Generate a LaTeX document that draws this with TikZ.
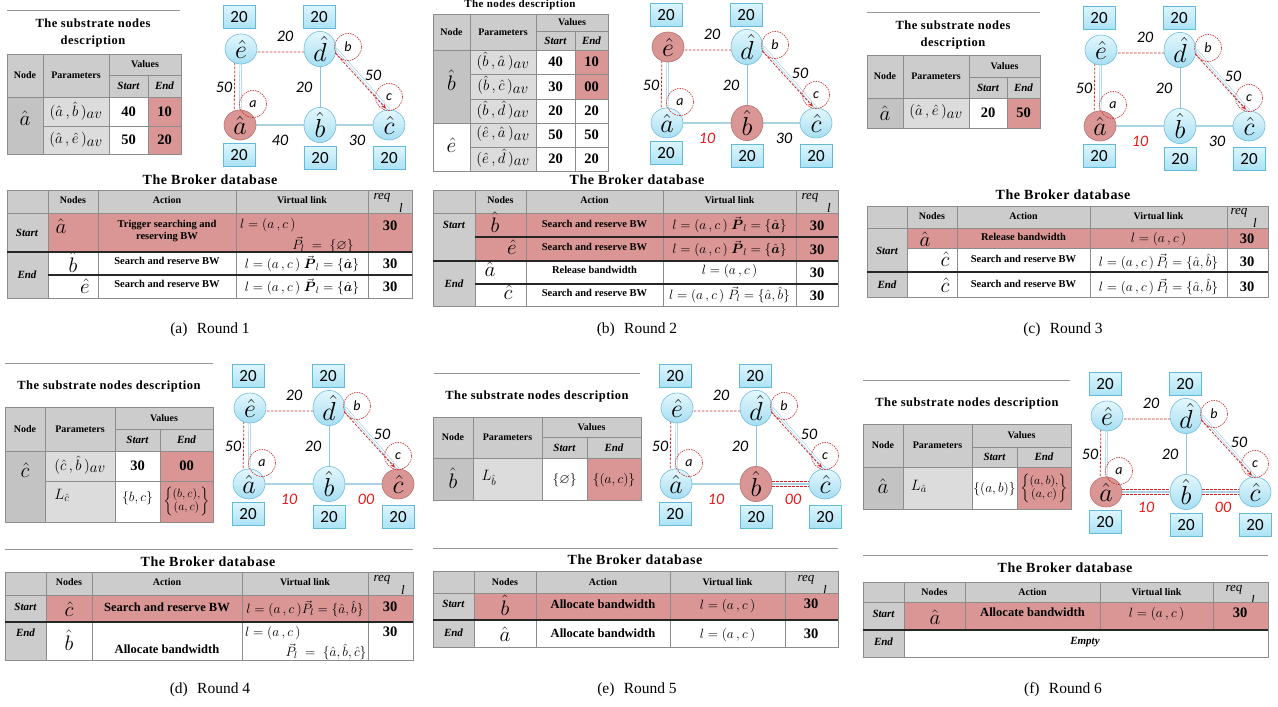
\RequirePackage{fix-cm}
\documentclass[tikz,border=0pt]{standalone}
\usepackage{amsmath,amssymb}
\usepackage{fontspec}
\setmainfont{Liberation Serif}
\newfontfamily\calfont{Carlito}
\newfontfamily\titlefont[LetterSpace=4]{Liberation Serif}
\usetikzlibrary{calc,arrows.meta,backgrounds,shapes.geometric}
\definecolor{pinkc}{RGB}{217,150,148}
\definecolor{pinkborder}{RGB}{185,115,113}
\definecolor{hgray}{RGB}{204,204,204}
\definecolor{lgray}{RGB}{220,220,220}
\definecolor{dgray}{RGB}{195,195,195}
\definecolor{tline}{RGB}{140,140,140}
\definecolor{nodetop}{RGB}{228,247,253}
\definecolor{nodebot}{RGB}{165,222,242}
\definecolor{nodeborder}{RGB}{115,190,220}
\definecolor{boxtop}{RGB}{220,245,253}
\definecolor{boxbot}{RGB}{170,226,245}
\definecolor{boxborder}{RGB}{100,185,215}
\definecolor{edgeblue}{RGB}{140,195,222}
\definecolor{edgeblue2}{RGB}{170,212,230}
\definecolor{redd}{RGB}{200,40,40}
\definecolor{labred}{RGB}{235,25,25}
\definecolor{sepgray}{RGB}{150,150,150}
\newcommand\tcell[5]{\path[fill=#1,draw=tline,line width=0.5pt] (#2,#3) rectangle (#4,#5);}
% #1 prefix, #2 x, #3 y, #4 a style, #5 b style, #6 c style, #7 e style, #8 ab label, #9 bc label
\newcommand\netg[9]{%
\begin{scope}[shift={(#2,#3)}]
 \node[#7] (#1e) at (0,0) {$\hat e$};
 \node[gnode] (#1d) at (79,0) {$\hat d$};
 \node[#4] (#1a) at (-1,76) {$\hat a$};
 \node[#5] (#1b) at (79,76) {$\hat b$};
 \node[#6] (#1c) at (148,76) {$\hat c$};
 \node[cbox] (#1te) at (-2,-32) {20};
 \node[cbox] (#1td) at (78,-32) {20};
 \node[cbox] (#1ba) at (-2,106) {20};
 \node[cbox] (#1bb) at (79,109) {20};
 \node[cbox] (#1bc) at (148,109) {20};
 \node[elab] (#1l1) at (44,-13) {20};
 \node[elab] (#1l2) at (-17,38) {50};
 \node[elab] (#1l3) at (63,38) {20};
 \node[elab] (#1l4) at (132,26) {50};
 \node[elab] (#1l5) at (39,91) {#8};
 \node[elab] (#1l6) at (116,91) {#9};
 \node[dcirc] (#1ca) at (12,55) {a};
 \node[dcirc] (#1cb) at (107,-2) {b};
 \node[dcirc] (#1cc) at (148,48) {c};
 \begin{pgfonlayer}{background}
  \draw[dblue] (#1e) -- (#1d);
  \draw[dblue] (#1e) -- (#1a);
  \draw[sblue] (#1d) -- (#1b);
  \draw[dblue] (#1d.east) -- (#1c.north);
  \draw[tblue] (#1a) -- (#1b);
  \draw[tblue] (#1b) -- (#1c);
  \draw[rdash] ([xshift=-6pt]#1a.center) -- ([xshift=-6pt,yshift=-3pt]#1e.center) -- ([yshift=-3pt]#1d.center);
 \end{pgfonlayer}
 \draw[rarrow] ([xshift=-1pt,yshift=-4pt]#1d.east) -- ([xshift=-3pt,yshift=1pt]#1c.north);
\end{scope}}
\begin{document}
\begin{tikzpicture}[x=1pt,y=-1pt,
 th/.style={font=\bfseries\fontsize{10}{11}\selectfont, inner sep=0pt},
 tse/.style={font=\bfseries\itshape\fontsize{11}{12}\selectfont, inner sep=0pt},
 tval/.style={font=\bfseries\fontsize{14.5}{15}\selectfont, inner sep=0pt},
 tpar/.style={font=\fontsize{15}{15}\selectfont, inner sep=0pt},
 tnode/.style={font=\fontsize{21}{21}\selectfont, inner sep=0pt},
 tact/.style={font=\bfseries\fontsize{10.5}{12}\selectfont, align=center, inner sep=0pt},
 tactl/.style={font=\bfseries\fontsize{12.5}{13}\selectfont, align=center, inner sep=0pt},
 tm/.style={font=\fontsize{13.5}{13.5}\selectfont, inner sep=0pt},
 treq/.style={font=\itshape\fontsize{13}{13}\selectfont, inner sep=0pt},
 ttl/.style={font=\titlefont\bfseries\fontsize{12.5}{17}\selectfont, align=center, inner sep=0pt},
 btitle/.style={font=\titlefont\bfseries\fontsize{14}{15}\selectfont, inner sep=0pt},
 capt/.style={font=\fontsize{15.5}{16}\selectfont, inner sep=0pt},
 sep/.style={draw=sepgray, line width=0.8pt},
 bline/.style={draw=black!85, line width=1.3pt},
 gnode/.style={ellipse, minimum width=32pt, minimum height=30pt, inner sep=0pt, draw=nodeborder, line width=0.6pt, top color=nodetop, bottom color=nodebot, font=\fontsize{26}{26}\selectfont},
 gpink/.style={gnode, top color=pinkc, bottom color=pinkc, draw=pinkborder},
 cbox/.style={rectangle, draw=boxborder, line width=0.6pt, top color=boxtop, bottom color=boxbot, minimum width=32pt, minimum height=23pt, inner sep=0pt, font=\calfont\fontsize{17}{17}\selectfont},
 elab/.style={font=\calfont\itshape\fontsize{16}{16}\selectfont, inner sep=0pt},
 dcirc/.style={circle, draw=redd, dash pattern=on 1.5pt off 1pt, line width=0.6pt, minimum size=27pt, inner sep=0pt, font=\calfont\itshape\fontsize{14}{14}\selectfont},
 dblue/.style={draw=edgeblue, line width=0.5pt, double=white, double distance=1.4pt},
 sblue/.style={draw=edgeblue, line width=0.8pt},
 tblue/.style={draw=edgeblue2, line width=2.2pt},
 rdash/.style={draw=redd, line width=0.8pt, dash pattern=on 2.5pt off 1.5pt},
 rarrow/.style={rdash, -{Stealth[length=5pt,width=4pt]}}]
\useasboundingbox (0,0) rectangle (1278,707);
\begin{pgfonlayer}{background}
\fill[white] (0,0) rectangle (1278,707);
\end{pgfonlayer}

%%%%%%%%%%%%%%%% (a)
\draw[sep] (7,10) -- (180,10);
\node[ttl] (ta-title) at (93,33) {The substrate nodes\\description};
\tcell{hgray}{7}{54}{43}{97} \node[th] (ta-h1) at (25,75.5) {Node};
\tcell{hgray}{43}{54}{109}{97} \node[th] (ta-h2) at (76,75.5) {Parameters};
\tcell{hgray}{109}{54}{181}{75} \node[th] (ta-h3) at (145,64.5) {Values};
\tcell{hgray}{109}{75}{148}{97} \node[tse] (ta-h4) at (128.5,86) {Start};
\tcell{hgray}{148}{75}{181}{97} \node[tse] (ta-h5) at (164.5,86) {End};
\tcell{dgray}{7}{97}{43}{154} \node[tnode] (ta-n) at (25,118) {$\hat a$};
\tcell{lgray}{43}{97}{109}{126} \node[tpar] (ta-p1) at (76,111) {$(\hat a\,,\hat b\,)_{\textstyle av}$};
\tcell{white}{109}{97}{148}{126} \node[tval] (ta-s1) at (128.5,111.5) {40};
\tcell{pinkc}{148}{97}{181}{126} \node[tval] (ta-e1) at (164.5,111.5) {10};
\tcell{lgray}{43}{126}{109}{154} \node[tpar] (ta-p2) at (76,140) {$(\hat a\,,\hat e\,)_{\textstyle av}$};
\tcell{white}{109}{126}{148}{154} \node[tval] (ta-s2) at (128.5,140) {50};
\tcell{pinkc}{148}{126}{181}{154} \node[tval] (ta-e2) at (164.5,140) {20};

\netg{ga}{241}{49}{gpink}{gnode}{gnode}{gnode}{40}{30}

\node[btitle] (ba-title) at (210,180) {The Broker database};
\tcell{hgray}{7}{190}{48}{213}
\tcell{hgray}{48}{190}{98}{213} \node[th] (ba-h1) at (73,200) {Nodes};
\tcell{hgray}{98}{190}{236}{213} \node[th] (ba-h2) at (167,200) {Action};
\tcell{hgray}{236}{190}{368}{213} \node[th] (ba-h3) at (302,200) {Virtual link};
\tcell{hgray}{368}{190}{412}{213} \node[treq] (ba-h4) at (382,198) {req}; \node[treq] (ba-h5) at (401,208) {l};
\tcell{hgray}{7}{213}{48}{252} \node[tse] (ba-s) at (27,233) {Start};
\tcell{pinkc}{48}{213}{98}{252} \node[tnode] (ba-s1) at (61,226) {$\hat a$};
\tcell{pinkc}{98}{213}{236}{252} \node[tact] (ba-s2) at (167,231) {Trigger searching and\\reserving BW};
\tcell{pinkc}{236}{213}{368}{252} \node[tm,anchor=west] (ba-s3) at (240,225) {$l=(a\,,c\,)$};
\node[tm] (ba-s4) at (323,245) {$\vec P_{l}\;=\;\{\varnothing\}$};
\tcell{pinkc}{368}{213}{412}{252} \node[tval] (ba-s5) at (390,226) {30};
\tcell{hgray}{7}{252}{48}{298} \node[tse] (ba-e) at (27,275) {End};
\tcell{white}{48}{252}{98}{275} \node[tnode] (ba-e1) at (73,262) {$\hat b$};
\tcell{white}{98}{252}{236}{275} \node[tact] (ba-e2) at (167,261) {Search and reserve BW};
\tcell{white}{236}{252}{368}{275} \node[tm] (ba-e3) at (302,264) {$l=(a\,,c\,)\;\vec{\boldsymbol P}_{l}=\{\hat{\boldsymbol a}\}$};
\tcell{white}{368}{252}{412}{275} \node[tval] (ba-e4) at (390,264) {30};
\tcell{white}{48}{275}{98}{298} \node[tnode] (ba-f1) at (85,286) {$\hat e$};
\tcell{white}{98}{275}{236}{298} \node[tact] (ba-f2) at (167,284) {Search and reserve BW};
\tcell{white}{236}{275}{368}{298} \node[tm] (ba-f3) at (302,287) {$l=(a\,,c\,)\;\vec{\boldsymbol P}_{l}=\{\hat{\boldsymbol a}\}$};
\tcell{white}{368}{275}{412}{298} \node[tval] (ba-f4) at (390,287) {30};
\draw[bline] (7,252) -- (412,252);
\draw[bline] (48,275) -- (412,275);
\node[capt] (cap-a) at (210,330) {(a)\hspace{0.6em}Round 1};

%%%%%%%%%%%%%%%% (b)
\node[ttl,font=\titlefont\bfseries\fontsize{11}{12}\selectfont] (tb-title) at (520,5) {The nodes description};
\tcell{hgray}{433}{14}{470}{50} \node[th] (tb-h1) at (451.5,32) {Node};
\tcell{hgray}{470}{14}{536}{50} \node[th] (tb-h2) at (503,32) {Parameters};
\tcell{hgray}{536}{14}{608}{31} \node[th] (tb-h3) at (572,22.5) {Values};
\tcell{hgray}{536}{31}{575}{50} \node[tse] (tb-h4) at (555.5,40.5) {Start};
\tcell{hgray}{575}{31}{608}{50} \node[tse] (tb-h5) at (591.5,40.5) {End};
\tcell{dgray}{433}{50}{470}{123} \node[tnode] (tb-n1) at (451.5,80) {$\hat b$};
\tcell{white}{433}{123}{470}{171} \node[tnode] (tb-n2) at (451.5,145) {$\hat e$};
\tcell{lgray}{470}{50}{536}{74} \node[tpar] (tb-p1) at (503,61) {$(\hat b\,,\hat a\,)_{\textstyle av}$};
\tcell{lgray}{470}{74}{536}{99} \node[tpar] (tb-p2) at (503,85.5) {$(\hat b\,,\hat c\,)_{\textstyle av}$};
\tcell{lgray}{470}{99}{536}{123} \node[tpar] (tb-p3) at (503,110) {$(\hat b\,,\hat d\,)_{\textstyle av}$};
\tcell{lgray}{470}{123}{536}{147} \node[tpar] (tb-p4) at (503,134) {$(\hat e\,,\hat a\,)_{\textstyle av}$};
\tcell{lgray}{470}{147}{536}{171} \node[tpar] (tb-p5) at (503,158) {$(\hat e\,,\hat d\,)_{\textstyle av}$};
\tcell{white}{536}{50}{575}{74} \node[tval] (tb-s1) at (555.5,62) {40};
\tcell{white}{536}{74}{575}{99} \node[tval] (tb-s2) at (555.5,86.5) {30};
\tcell{white}{536}{99}{575}{123} \node[tval] (tb-s3) at (555.5,111) {20};
\tcell{white}{536}{123}{575}{147} \node[tval] (tb-s4) at (555.5,135) {50};
\tcell{white}{536}{147}{575}{171} \node[tval] (tb-s5) at (555.5,159) {20};
\tcell{pinkc}{575}{50}{608}{74} \node[tval] (tb-e1) at (591.5,62) {10};
\tcell{pinkc}{575}{74}{608}{99} \node[tval] (tb-e2) at (591.5,86.5) {00};
\tcell{white}{575}{99}{608}{123} \node[tval] (tb-e3) at (591.5,111) {20};
\tcell{white}{575}{123}{608}{147} \node[tval] (tb-e4) at (591.5,135) {50};
\tcell{white}{575}{147}{608}{171} \node[tval] (tb-e5) at (591.5,159) {20};

\netg{gb}{668}{47}{gnode}{gpink}{gnode}{gpink}{\color{labred}10}{30}

\node[btitle] (bb-title) at (637,180) {The Broker database};
\tcell{hgray}{433}{190}{475}{213}
\tcell{hgray}{475}{190}{526}{213} \node[th] (bb-h1) at (500.5,200) {Nodes};
\tcell{hgray}{526}{190}{663}{213} \node[th] (bb-h2) at (594.5,200) {Action};
\tcell{hgray}{663}{190}{796}{213} \node[th] (bb-h3) at (729.5,200) {Virtual link};
\tcell{hgray}{796}{190}{838}{213} \node[treq] (bb-h4) at (810,198) {req}; \node[treq] (bb-h5) at (829,208) {l};
\tcell{hgray}{433}{213}{475}{261} \node[tse] (bb-s) at (454,225) {Start};
\tcell{pinkc}{475}{213}{526}{237} \node[tnode] (bb-s1) at (495,222) {$\hat b$};
\tcell{pinkc}{526}{213}{663}{237} \node[tact] (bb-s2) at (594.5,224) {Search and reserve BW};
\tcell{pinkc}{663}{213}{796}{237} \node[tm] (bb-s3) at (729.5,225) {$l=(a\,,c\,)\;\vec{\boldsymbol P}_{l}=\{\hat{\boldsymbol a}\}$};
\tcell{pinkc}{796}{213}{838}{237} \node[tval] (bb-s4) at (817,226) {30};
\tcell{pinkc}{475}{237}{526}{261} \node[tnode] (bb-t1) at (512,247) {$\hat e$};
\tcell{pinkc}{526}{237}{663}{261} \node[tact] (bb-t2) at (594.5,247) {Search and reserve BW};
\tcell{pinkc}{663}{237}{796}{261} \node[tm] (bb-t3) at (729.5,249) {$l=(a\,,c\,)\;\vec{\boldsymbol P}_{l}=\{\hat{\boldsymbol a}\}$};
\tcell{pinkc}{796}{237}{838}{261} \node[tval] (bb-t4) at (817,250) {30};
\tcell{hgray}{433}{261}{475}{306} \node[tse] (bb-e) at (454,284) {End};
\tcell{white}{475}{261}{526}{284} \node[tnode] (bb-e1) at (490,269) {$\hat a$};
\tcell{white}{526}{261}{663}{284} \node[tact] (bb-e2) at (594.5,270) {Release bandwidth};
\tcell{white}{663}{261}{796}{284} \node[tm] (bb-e3) at (729.5,271) {$l=(a\,,c\,)$};
\tcell{white}{796}{261}{838}{284} \node[tval] (bb-e4) at (817,273) {30};
\tcell{white}{475}{284}{526}{306} \node[tnode] (bb-f1) at (508,292) {$\hat c$};
\tcell{white}{526}{284}{663}{306} \node[tact] (bb-f2) at (594.5,293) {Search and reserve BW};
\tcell{white}{663}{284}{796}{306} \node[tm] (bb-f3) at (729.5,295) {$l=(a\,,c\,)\;\vec P_{l}=\{\hat a,\hat b\}$};
\tcell{white}{796}{284}{838}{306} \node[tval] (bb-f4) at (817,296) {30};
\draw[bline] (475,237) -- (838,237);
\draw[bline] (433,261) -- (838,261);
\draw[bline] (475,284) -- (838,284);
\node[capt] (cap-b) at (637,330) {(b)\hspace{0.6em}Round 2};

%%%%%%%%%%%%%%%% (c)
\draw[sep] (867,12) -- (1040,12);
\node[ttl] (tc-title) at (953,35) {The substrate nodes\\description};
\tcell{hgray}{867}{55}{903}{98} \node[th] (tc-h1) at (885,76.5) {Node};
\tcell{hgray}{903}{55}{969}{98} \node[th] (tc-h2) at (936,76.5) {Parameters};
\tcell{hgray}{969}{55}{1040}{77} \node[th] (tc-h3) at (1004.5,66) {Values};
\tcell{hgray}{969}{77}{1007}{98} \node[tse] (tc-h4) at (988,87.5) {Start};
\tcell{hgray}{1007}{77}{1040}{98} \node[tse] (tc-h5) at (1023.5,87.5) {End};
\tcell{dgray}{867}{98}{903}{128} \node[tnode] (tc-n) at (885,113) {$\hat a$};
\tcell{lgray}{903}{98}{969}{128} \node[tpar] (tc-p1) at (936,112) {$(\hat a\,,\hat e\,)_{\textstyle av}$};
\tcell{white}{969}{98}{1007}{128} \node[tval] (tc-s1) at (988,113) {20};
\tcell{pinkc}{1007}{98}{1040}{128} \node[tval] (tc-e1) at (1023.5,113) {50};

\netg{gc}{1101}{50}{gpink}{gnode}{gnode}{gnode}{\color{labred}10}{30}

\node[btitle] (bc-title) at (1063,195) {The Broker database};
\tcell{hgray}{867}{206}{907}{228}
\tcell{hgray}{907}{206}{957}{228} \node[th] (bc-h1) at (932,216) {Nodes};
\tcell{hgray}{957}{206}{1090}{228} \node[th] (bc-h2) at (1023.5,216) {Action};
\tcell{hgray}{1090}{206}{1227}{228} \node[th] (bc-h3) at (1158.5,216) {Virtual link};
\tcell{hgray}{1227}{206}{1268}{228} \node[treq] (bc-h4) at (1239,213) {req}; \node[treq] (bc-h5) at (1255,223) {l};
\tcell{hgray}{867}{228}{907}{272} \node[tse] (bc-s) at (887,251) {Start};
\tcell{pinkc}{907}{228}{957}{248} \node[tnode] (bc-s1) at (925,239) {$\hat a$};
\tcell{pinkc}{957}{228}{1090}{248} \node[tact] (bc-s2) at (1023.5,237) {Release bandwidth};
\tcell{pinkc}{1090}{228}{1227}{248} \node[tm] (bc-s3) at (1158.5,239) {$l=(a\,,c\,)$};
\tcell{pinkc}{1227}{228}{1268}{248} \node[tval] (bc-s4) at (1247,239) {30};
\tcell{white}{907}{248}{957}{272} \node[tnode] (bc-t1) at (945,259) {$\hat c$};
\tcell{white}{957}{248}{1090}{272} \node[tact] (bc-t2) at (1023.5,259) {Search and reserve BW};
\tcell{white}{1090}{248}{1227}{272} \node[tm] (bc-t3) at (1158.5,262) {$l=(a\,,c\,)\,\vec P_{l}=\{\hat a,\hat b\}$};
\tcell{white}{1227}{248}{1268}{272} \node[tval] (bc-t4) at (1247,262) {30};
\tcell{hgray}{867}{272}{907}{297} \node[tse] (bc-e) at (887,285) {End};
\tcell{white}{907}{272}{957}{297} \node[tnode] (bc-e1) at (945,285) {$\hat c$};
\tcell{white}{957}{272}{1090}{297} \node[tact] (bc-e2) at (1023.5,284) {Search and reserve BW};
\tcell{white}{1090}{272}{1227}{297} \node[tm] (bc-e3) at (1158.5,287) {$l=(a\,,c\,)\,\vec P_{l}=\{\hat a,\hat b\}$};
\tcell{white}{1227}{272}{1268}{297} \node[tval] (bc-e4) at (1247,287) {30};
\draw[bline] (867,272) -- (1268,272);
\node[capt] (cap-c) at (1063,330) {(c)\hspace{0.6em}Round 3};

%%%%%%%%%%%%%%%% (d)
\draw[sep] (5,363) -- (213,363);
\node[ttl] (td-title) at (109,386) {The substrate nodes description};
\tcell{hgray}{5}{407}{45}{451} \node[th] (td-h1) at (25,429) {Node};
\tcell{hgray}{45}{407}{115}{451} \node[th] (td-h2) at (80,429) {Parameters};
\tcell{hgray}{115}{407}{213}{429} \node[th] (td-h3) at (164,418) {Values};
\tcell{hgray}{115}{429}{160}{451} \node[tse] (td-h4) at (137.5,440) {Start};
\tcell{hgray}{160}{429}{213}{451} \node[tse] (td-h5) at (186.5,440) {End};
\tcell{dgray}{5}{451}{45}{522} \node[tnode] (td-n) at (25,470) {$\hat c$};
\tcell{lgray}{45}{451}{115}{481} \node[tpar] (td-p1) at (80,465) {$(\hat c\,,\hat b\,)_{\textstyle av}$};
\tcell{white}{115}{451}{160}{481} \node[tval] (td-s1) at (137.5,466) {30};
\tcell{pinkc}{160}{451}{213}{481} \node[tval] (td-e1) at (186.5,466) {00};
\tcell{lgray}{45}{481}{115}{522} \node[tpar] (td-p2) at (62,495) {$L_{\hat c}$};
\tcell{white}{115}{481}{160}{522} \node[tm] (td-s2) at (137.5,498) {$\{b,c\}$};
\tcell{pinkc}{160}{481}{213}{522} \node[tm,font=\fontsize{12}{12}\selectfont] (td-e2) at (186.5,501) {$\left\{\begin{matrix}(b,c),\\(a,c)\end{matrix}\right\}$};

\netg{gd}{250}{408}{gnode}{gnode}{gpink}{gnode}{\color{labred}10}{\color{labred}00}

\draw[sep] (5,549) -- (413,549);
\node[btitle] (bd-title) at (208,562) {The Broker database};
\tcell{hgray}{5}{572}{46}{595}
\tcell{hgray}{46}{572}{92}{595} \node[th] (bd-h1) at (69,582) {Nodes};
\tcell{hgray}{92}{572}{242}{595} \node[th] (bd-h2) at (167,582) {Action};
\tcell{hgray}{242}{572}{368}{595} \node[th] (bd-h3) at (305,582) {Virtual link};
\tcell{hgray}{368}{572}{413}{595} \node[treq] (bd-h4) at (382,580) {req}; \node[treq] (bd-h5) at (403,590) {l};
\tcell{hgray}{5}{595}{46}{622} \node[tse] (bd-s) at (25.5,607) {Start};
\tcell{pinkc}{46}{595}{92}{622} \node[tnode] (bd-s1) at (69,609) {$\hat c$};
\tcell{pinkc}{92}{595}{242}{622} \node[tactl] (bd-s2) at (167,607) {Search and reserve BW};
\tcell{pinkc}{242}{595}{368}{622} \node[tm] (bd-s3) at (305,609) {$l=(a\,,c\,)\vec P_{l}=\{\hat a,\hat b\}$};
\tcell{pinkc}{368}{595}{413}{622} \node[tval] (bd-s4) at (390,607) {30};
\tcell{hgray}{5}{622}{46}{660} \node[tse] (bd-e) at (25.5,633) {End};
\tcell{white}{46}{622}{92}{660} \node[tnode] (bd-e1) at (69,640) {$\hat b$};
\tcell{white}{92}{622}{242}{660} \node[tactl] (bd-e2) at (167,649) {Allocate bandwidth};
\tcell{white}{242}{622}{368}{660} \node[tm,anchor=west] (bd-e3) at (245,633) {$l=(a\,,c\,)$};
\node[tm] (bd-e4) at (326,652) {$\vec P_{l}\;=\;\{\hat a,\hat b,\hat c\}$};
\tcell{white}{368}{622}{413}{660} \node[tval] (bd-e5) at (390,632) {30};
\draw[bline] (5,622) -- (413,622);
\node[capt] (cap-d) at (210,690) {(d)\hspace{0.6em}Round 4};

%%%%%%%%%%%%%%%% (e)
\draw[sep] (434,373) -- (640,373);
\node[ttl] (te-title) at (537,396) {The substrate nodes description};
\tcell{hgray}{433}{417}{473}{458} \node[th] (te-h1) at (453,437.5) {Node};
\tcell{hgray}{473}{417}{542}{458} \node[th] (te-h2) at (507.5,437.5) {Parameters};
\tcell{hgray}{542}{417}{641}{437} \node[th] (te-h3) at (591.5,427) {Values};
\tcell{hgray}{542}{437}{587}{458} \node[tse] (te-h4) at (564.5,447.5) {Start};
\tcell{hgray}{587}{437}{641}{458} \node[tse] (te-h5) at (614,447.5) {End};
\tcell{dgray}{433}{458}{473}{500} \node[tnode] (te-n) at (453,478) {$\hat b$};
\tcell{lgray}{473}{458}{542}{500} \node[tpar] (te-p1) at (489,478) {$L_{\hat b}$};
\tcell{white}{542}{458}{587}{500} \node[tm] (te-s1) at (564.5,480) {$\{\varnothing\}$};
\tcell{pinkc}{587}{458}{641}{500} \node[tm] (te-e1) at (614,480) {$\{(a,c)\}$};

\netg{ge}{677}{408}{gnode}{gpink}{gnode}{gnode}{\color{labred}10}{\color{labred}00}
\draw[rdash] ([yshift=2.5pt]geb.east) -- ([yshift=2.5pt]gec.west);
\draw[rdash] ([yshift=-2.5pt]geb.east) -- ([yshift=-2.5pt]gec.west);

\draw[sep] (433,548) -- (838,548);
\node[btitle] (be-title) at (635,560) {The Broker database};
\tcell{hgray}{433}{571}{474}{593}
\tcell{hgray}{474}{571}{536}{593} \node[th] (be-h1) at (505,582) {Nodes};
\tcell{hgray}{536}{571}{670}{593} \node[th] (be-h2) at (603,582) {Action};
\tcell{hgray}{670}{571}{785}{593} \node[th] (be-h3) at (727.5,582) {Virtual link};
\tcell{hgray}{785}{571}{838}{593} \node[treq] (be-h4) at (806,580) {req}; \node[treq] (be-h5) at (825,590) {l};
\tcell{hgray}{433}{593}{474}{620} \node[tse] (be-s) at (453.5,604) {Start};
\tcell{pinkc}{474}{593}{536}{620} \node[tnode] (be-s1) at (505,605) {$\hat b$};
\tcell{pinkc}{536}{593}{670}{620} \node[tactl] (be-s2) at (603,604) {Allocate bandwidth};
\tcell{pinkc}{670}{593}{785}{620} \node[tm] (be-s3) at (727.5,606) {$l=(a\,,c\,)$};
\tcell{pinkc}{785}{593}{838}{620} \node[tval] (be-s4) at (811,604) {30};
\tcell{hgray}{433}{620}{474}{647} \node[tse] (be-e) at (453.5,633) {End};
\tcell{white}{474}{620}{536}{647} \node[tnode] (be-e1) at (505,634) {$\hat a$};
\tcell{white}{536}{620}{670}{647} \node[tactl] (be-e2) at (603,633) {Allocate bandwidth};
\tcell{white}{670}{620}{785}{647} \node[tm] (be-e3) at (727.5,635) {$l=(a\,,c\,)$};
\tcell{white}{785}{620}{838}{647} \node[tval] (be-e4) at (811,634) {30};
\draw[bline] (433,620) -- (838,620);
\node[capt] (cap-e) at (637,690) {(e)\hspace{0.6em}Round 5};

%%%%%%%%%%%%%%%% (f)
\draw[sep] (863,380) -- (1070,380);
\node[ttl] (tf-title) at (967,403) {The substrate nodes description};
\tcell{hgray}{863}{424}{903}{467} \node[th] (tf-h1) at (883,445.5) {Node};
\tcell{hgray}{903}{424}{972}{467} \node[th] (tf-h2) at (937.5,445.5) {Parameters};
\tcell{hgray}{972}{424}{1071}{447} \node[th] (tf-h3) at (1021.5,435.5) {Values};
\tcell{hgray}{972}{447}{1017}{467} \node[tse] (tf-h4) at (994.5,457) {Start};
\tcell{hgray}{1017}{447}{1071}{467} \node[tse] (tf-h5) at (1044,457) {End};
\tcell{dgray}{863}{467}{903}{509} \node[tnode] (tf-n) at (883,486) {$\hat a$};
\tcell{lgray}{903}{467}{972}{509} \node[tpar] (tf-p1) at (919,486) {$L_{\hat a}$};
\tcell{white}{972}{467}{1017}{509} \node[tm] (tf-s1) at (994.5,489) {$\{(a,b)\}$};
\tcell{pinkc}{1017}{467}{1071}{509} \node[tm,font=\fontsize{12}{12}\selectfont] (tf-e1) at (1044,488) {$\left\{\begin{matrix}(a,b),\\(a,c)\end{matrix}\right\}$};

\netg{gf}{1107}{416}{gpink}{gnode}{gnode}{gnode}{\color{labred}10}{\color{labred}00}
\draw[rdash] ([yshift=2.5pt]gfa.east) -- ([yshift=2.5pt]gfb.west);
\draw[rdash] ([yshift=-2.5pt]gfa.east) -- ([yshift=-2.5pt]gfb.west);
\draw[rdash] ([yshift=2.5pt]gfb.east) -- ([yshift=2.5pt]gfc.west);
\draw[rdash] ([yshift=-2.5pt]gfb.east) -- ([yshift=-2.5pt]gfc.west);

\draw[sep] (863,555) -- (1268,555);
\node[btitle] (bf-title) at (1065,568) {The Broker database};
\tcell{hgray}{863}{582}{904}{602}
\tcell{hgray}{904}{582}{965}{602} \node[th] (bf-h1) at (934.5,592) {Nodes};
\tcell{hgray}{965}{582}{1100}{602} \node[th] (bf-h2) at (1032.5,592) {Action};
\tcell{hgray}{1100}{582}{1213}{602} \node[th] (bf-h3) at (1156.5,592) {Virtual link};
\tcell{hgray}{1213}{582}{1268}{602} \node[treq] (bf-h4) at (1234,590) {req}; \node[treq] (bf-h5) at (1253,600) {l};
\tcell{hgray}{863}{602}{904}{630} \node[tse] (bf-s) at (883.5,614) {Start};
\tcell{pinkc}{904}{602}{965}{630} \node[tnode] (bf-s1) at (935,617) {$\hat a$};
\tcell{pinkc}{965}{602}{1100}{630} \node[tactl] (bf-s2) at (1032.5,612) {Allocate bandwidth};
\tcell{pinkc}{1100}{602}{1213}{630} \node[tm] (bf-s3) at (1156.5,614) {$l=(a\,,c\,)$};
\tcell{pinkc}{1213}{602}{1268}{630} \node[tval] (bf-s4) at (1240,613) {30};
\tcell{hgray}{863}{630}{904}{657} \node[tse] (bf-e) at (883.5,642) {End};
\tcell{white}{904}{630}{1268}{657} \node[tse] (bf-e1) at (1085,642) {Empty};
\draw[bline] (863,630) -- (1268,630);
\node[capt] (cap-f) at (1063,690) {(f)\hspace{0.6em}Round 6};
\end{tikzpicture}
\end{document}
